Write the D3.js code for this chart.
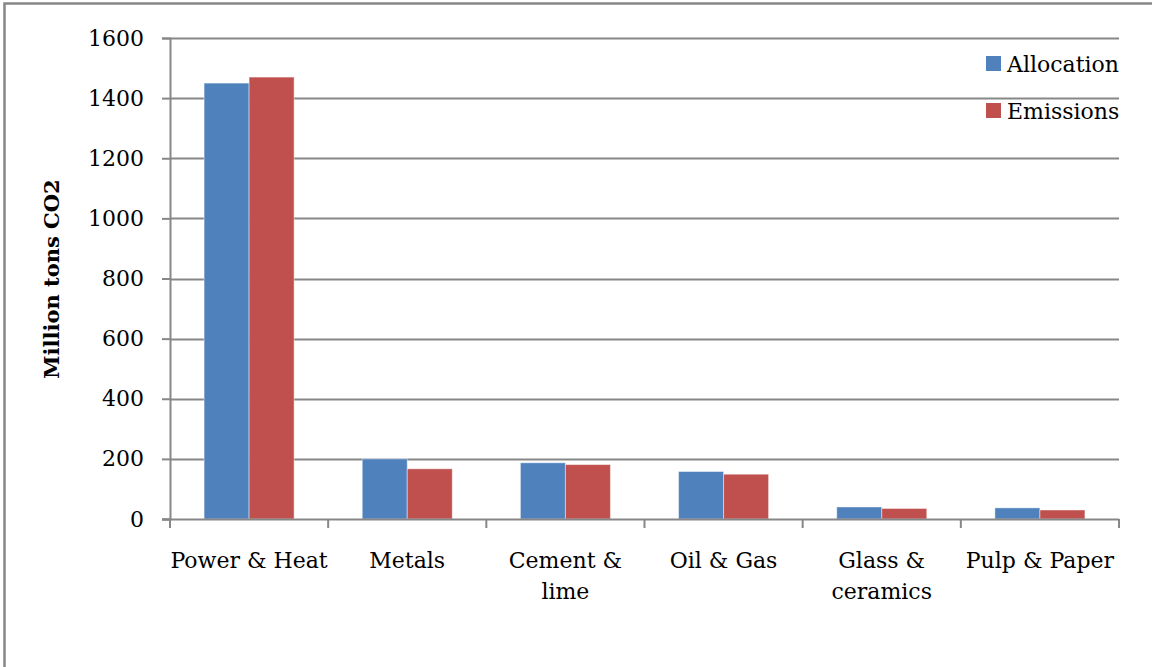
<!DOCTYPE html>
<html>
<head>
<meta charset="utf-8">
<script src="https://cdn.jsdelivr.net/npm/d3@7"></script>
<style>
  html, body { margin: 0; padding: 0; background: #fff; }
  svg { display: block; }
  text { font-family: "DejaVu Serif", serif; fill: #000; }
</style>
</head>
<body>
<svg id="chart" width="1152" height="667"></svg>
<script>
// Sector data (million tons CO2)
const categories = ["Power & Heat", "Metals", "Cement & lime", "Oil & Gas", "Glass & ceramics", "Pulp & Paper"];
const categoryLines = [["Power & Heat"], ["Metals"], ["Cement &", "lime"], ["Oil & Gas"], ["Glass &", "ceramics"], ["Pulp & Paper"]];
const seriesNames = ["Allocation", "Emissions"];
const allocation = [1450, 200, 187, 158, 40, 37];
const emissions = [1470, 167, 181, 149, 35, 30];
const yTicks = [0, 200, 400, 600, 800, 1000, 1200, 1400, 1600];
const seriesColors = ["#4F81BD", "#C0504D"];

const svg = d3.select("#chart");
const W = 1152, H = 667;
const plot = { left: 170, right: 1119, top: 38, bottom: 519 };
const gridColor = "#878787";

// outer frame (left and top edges)
svg.append("path")
  .attr("d", `M4.5,${H} L4.5,3.5 L${W},3.5`)
  .attr("fill", "none")
  .attr("stroke", gridColor)
  .attr("stroke-width", 2.5);

const y = d3.scaleLinear().domain([0, 1600]).range([plot.bottom, plot.top]);
const x0 = d3.scaleBand().domain(categories).range([plot.left, plot.right]).padding(0);
const x1 = d3.scaleBand().domain(seriesNames).range([0, x0.bandwidth()])
  .paddingInner(0).paddingOuter(0.757);

// horizontal gridlines
svg.append("g").selectAll("line")
  .data(yTicks.filter(v => v > 0))
  .join("line")
  .attr("x1", plot.left).attr("x2", plot.right)
  .attr("y1", d => Math.round(y(d)) + 0.5).attr("y2", d => Math.round(y(d)) + 0.5)
  .attr("stroke", gridColor).attr("stroke-width", 2);

// bars
const rows = categories.map((c, i) => ({ cat: c, values: [allocation[i], emissions[i]] }));
const groups = svg.append("g").selectAll("g")
  .data(rows)
  .join("g")
  .attr("transform", d => `translate(${x0(d.cat)},0)`);
groups.selectAll("rect")
  .data(d => d.values.map((v, j) => ({ key: seriesNames[j], v, j })))
  .join("rect")
  .attr("x", d => x1(d.key))
  .attr("width", x1.bandwidth())
  .attr("y", d => y(d.v))
  .attr("height", d => y(0) - y(d.v))
  .attr("fill", d => seriesColors[d.j])
  .attr("stroke", "rgba(255,255,255,0.45)")
  .attr("stroke-width", 1);

// y axis
const yAxis = svg.append("g")
  .attr("transform", `translate(${plot.left},0)`)
  .call(d3.axisLeft(y).tickValues(yTicks).tickSize(8).tickPadding(18).tickFormat(d3.format("d")));
yAxis.select(".domain").attr("stroke", gridColor).attr("stroke-width", 2);
yAxis.selectAll(".tick line").attr("stroke", gridColor).attr("stroke-width", 2);
yAxis.selectAll(".tick text")
  .attr("font-family", "DejaVu Serif").attr("font-size", 22).attr("fill", "#000");

// x axis baseline and category tick marks
const xg = svg.append("g");
xg.append("line")
  .attr("x1", plot.left - 8).attr("x2", plot.right)
  .attr("y1", y(0) + 0.5).attr("y2", y(0) + 0.5)
  .attr("stroke", gridColor).attr("stroke-width", 2);
const boundaries = categories.map(c => x0(c)).concat([plot.right]);
xg.selectAll("line.tk")
  .data(boundaries)
  .join("line")
  .attr("class", "tk")
  .attr("x1", d => d).attr("x2", d => d)
  .attr("y1", y(0)).attr("y2", y(0) + 9)
  .attr("stroke", gridColor).attr("stroke-width", 2);

// category labels
const labels = xg.selectAll("text.cat")
  .data(categories.map((c, i) => ({ c, lines: categoryLines[i] })))
  .join("text")
  .attr("class", "cat")
  .attr("text-anchor", "middle")
  .attr("font-size", 22)
  .attr("x", d => x0(d.c) + x0.bandwidth() / 2)
  .attr("y", 568);
labels.selectAll("tspan")
  .data(d => d.lines.map(l => ({ l, x: x0(d.c) + x0.bandwidth() / 2 })))
  .join("tspan")
  .attr("x", d => d.x)
  .attr("dy", (d, i) => i === 0 ? 0 : 31)
  .text(d => d.l);

// y axis title
svg.append("text")
  .attr("transform", "translate(51,279) rotate(-90)")
  .attr("text-anchor", "middle")
  .attr("dominant-baseline", "central")
  .attr("font-size", 21)
  .attr("font-weight", "bold")
  .text("Million tons CO2");

// legend
const legend = svg.append("g");
const legendRows = seriesNames.map((s, i) => ({ s, color: seriesColors[i], cy: 63.5 + i * 47 }));
legend.selectAll("rect")
  .data(legendRows)
  .join("rect")
  .attr("x", 986).attr("y", d => d.cy - 7.5)
  .attr("width", 15).attr("height", 15)
  .attr("fill", d => d.color);
legend.selectAll("text")
  .data(legendRows)
  .join("text")
  .attr("x", 1007).attr("y", d => d.cy + 8)
  .attr("font-size", 22)
  .text(d => d.s);
</script>
</body>
</html>
